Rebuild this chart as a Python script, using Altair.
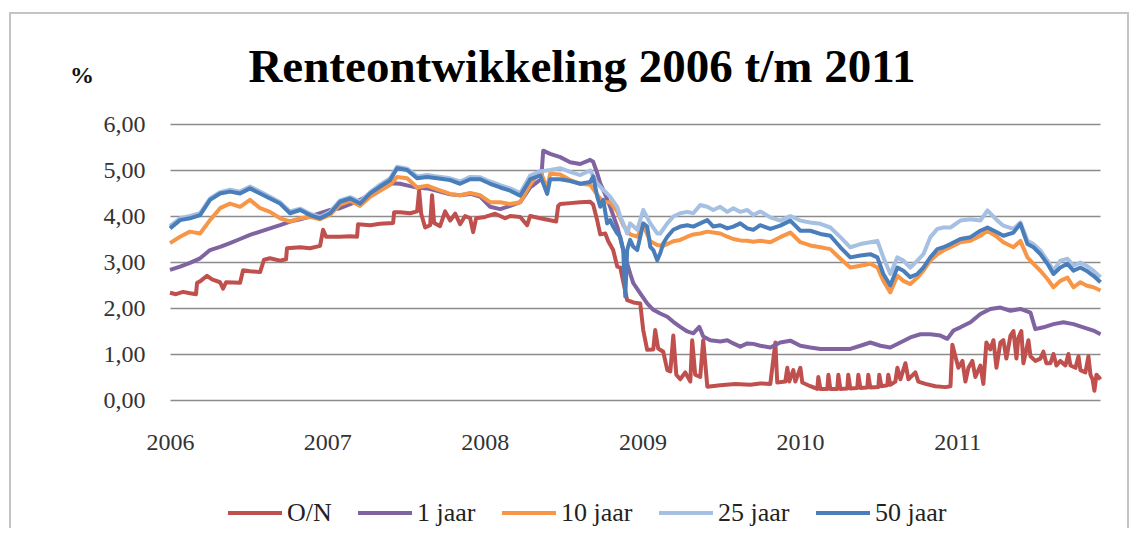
import altair as alt
import pandas as pd

TITLE = "Renteontwikkeling 2006 t/m 2011"
Y_UNIT = "%"
SERIES = ["O/N", "1 jaar", "10 jaar", "25 jaar", "50 jaar"]
COLORS = ["#C0504D", "#8064A2", "#F79646", "#A5C0E2", "#4A7EBB"]
YEARS = [2006, 2007, 2008, 2009, 2010, 2011]
Y_TICKS = [0, 1, 2, 3, 4, 5, 6]

# (decimal year, rate in %)
ON = [
    (2006.000, 2.33), (2006.038, 2.30), (2006.083, 2.35), (2006.127, 2.32), (2006.165, 2.30), (2006.172, 2.55),
    (2006.191, 2.58), (2006.235, 2.70), (2006.267, 2.62), (2006.318, 2.56), (2006.337, 2.42), (2006.356, 2.56),
    (2006.445, 2.55), (2006.464, 2.82), (2006.508, 2.80), (2006.572, 2.78), (2006.597, 3.05), (2006.635, 3.08),
    (2006.699, 3.03), (2006.737, 3.06), (2006.743, 3.30), (2006.826, 3.32), (2006.889, 3.30), (2006.953, 3.35),
    (2006.972, 3.70), (2006.991, 3.55), (2007.080, 3.55), (2007.144, 3.56), (2007.188, 3.55), (2007.194, 3.82),
    (2007.271, 3.80), (2007.334, 3.83), (2007.417, 3.85), (2007.423, 4.08), (2007.461, 4.08), (2007.525, 4.06),
    (2007.569, 4.10), (2007.582, 4.55), (2007.595, 4.05), (2007.620, 3.75), (2007.652, 3.80), (2007.664, 4.45),
    (2007.677, 3.85), (2007.715, 3.78), (2007.747, 4.10), (2007.779, 3.90), (2007.811, 4.05), (2007.842, 3.82),
    (2007.874, 4.00), (2007.906, 3.95), (2007.925, 3.65), (2007.944, 3.95), (2008.001, 3.98), (2008.065, 4.05),
    (2008.128, 3.95), (2008.160, 4.00), (2008.224, 3.98), (2008.268, 3.80), (2008.287, 4.00), (2008.351, 3.95),
    (2008.452, 3.88), (2008.465, 4.22), (2008.478, 4.26), (2008.541, 4.28), (2008.605, 4.30), (2008.668, 4.31),
    (2008.687, 4.25), (2008.713, 3.90), (2008.732, 3.60), (2008.764, 3.62), (2008.783, 3.45), (2008.814, 3.26),
    (2008.840, 2.90), (2008.859, 2.88), (2008.903, 2.17), (2008.942, 2.12), (2008.986, 2.10), (2009.005, 1.52),
    (2009.030, 1.09), (2009.069, 1.10), (2009.081, 1.52), (2009.100, 1.12), (2009.132, 1.05), (2009.158, 0.65),
    (2009.177, 0.62), (2009.196, 1.40), (2009.215, 0.55), (2009.240, 0.45), (2009.272, 0.60), (2009.304, 0.40),
    (2009.316, 1.30), (2009.335, 0.55), (2009.367, 0.50), (2009.386, 1.30), (2009.412, 0.29), (2009.494, 0.32),
    (2009.589, 0.35), (2009.685, 0.33), (2009.748, 0.36), (2009.812, 0.35), (2009.844, 1.25), (2009.856, 0.38),
    (2009.907, 0.40), (2009.920, 0.70), (2009.932, 0.40), (2009.958, 0.65), (2009.971, 0.40), (2010.003, 0.70),
    (2010.015, 0.38), (2010.066, 0.30), (2010.110, 0.24), (2010.117, 0.50), (2010.130, 0.24), (2010.174, 0.24),
    (2010.181, 0.55), (2010.193, 0.24), (2010.237, 0.24), (2010.244, 0.55), (2010.257, 0.24), (2010.301, 0.25),
    (2010.307, 0.55), (2010.320, 0.25), (2010.364, 0.26), (2010.371, 0.55), (2010.384, 0.26), (2010.428, 0.27),
    (2010.434, 0.55), (2010.447, 0.27), (2010.498, 0.28), (2010.504, 0.55), (2010.517, 0.30), (2010.555, 0.32),
    (2010.561, 0.55), (2010.574, 0.33), (2010.606, 0.40), (2010.619, 0.70), (2010.638, 0.45), (2010.670, 0.80),
    (2010.689, 0.45), (2010.733, 0.60), (2010.752, 0.40), (2010.797, 0.35), (2010.860, 0.30), (2010.924, 0.28),
    (2010.956, 0.30), (2010.968, 1.20), (2010.987, 0.95), (2011.006, 0.70), (2011.032, 0.85), (2011.051, 0.40),
    (2011.070, 0.70), (2011.095, 0.85), (2011.114, 0.50), (2011.146, 0.75), (2011.165, 0.35), (2011.184, 1.25),
    (2011.209, 1.10), (2011.229, 1.30), (2011.248, 0.70), (2011.273, 1.25), (2011.292, 1.30), (2011.311, 0.90),
    (2011.337, 1.40), (2011.356, 1.50), (2011.375, 0.90), (2011.387, 1.35), (2011.406, 1.50), (2011.419, 0.80),
    (2011.451, 1.30), (2011.464, 0.95), (2011.495, 0.85), (2011.527, 0.90), (2011.546, 1.05), (2011.565, 0.80),
    (2011.591, 0.80), (2011.610, 1.00), (2011.629, 0.75), (2011.654, 0.85), (2011.686, 0.75), (2011.705, 1.00),
    (2011.718, 0.75), (2011.750, 0.70), (2011.769, 0.95), (2011.781, 0.65), (2011.813, 0.60), (2011.832, 0.95),
    (2011.845, 0.55), (2011.858, 0.45), (2011.870, 0.20), (2011.883, 0.55), (2011.909, 0.45),
]

J1 = [
    (2006.000, 2.83), (2006.064, 2.90), (2006.127, 2.98), (2006.191, 3.08), (2006.254, 3.26), (2006.318, 3.33),
    (2006.381, 3.41), (2006.445, 3.50), (2006.508, 3.59), (2006.572, 3.66), (2006.635, 3.73), (2006.699, 3.80),
    (2006.762, 3.88), (2006.826, 3.93), (2006.889, 3.99), (2006.953, 4.06), (2007.017, 4.13), (2007.080, 4.17),
    (2007.144, 4.26), (2007.207, 4.35), (2007.271, 4.46), (2007.334, 4.60), (2007.398, 4.71), (2007.461, 4.70),
    (2007.525, 4.65), (2007.569, 4.62), (2007.633, 4.60), (2007.696, 4.55), (2007.779, 4.47), (2007.842, 4.45),
    (2007.906, 4.48), (2007.970, 4.42), (2008.033, 4.20), (2008.097, 4.15), (2008.160, 4.22), (2008.224, 4.30),
    (2008.287, 4.62), (2008.357, 4.80), (2008.370, 5.42), (2008.414, 5.35), (2008.478, 5.28), (2008.541, 5.17),
    (2008.605, 5.13), (2008.668, 5.22), (2008.687, 5.18), (2008.713, 4.93), (2008.732, 4.71), (2008.751, 4.57),
    (2008.795, 4.20), (2008.840, 3.77), (2008.878, 3.26), (2008.922, 2.75), (2008.942, 2.54), (2008.986, 2.32),
    (2009.030, 2.10), (2009.069, 1.96), (2009.113, 1.88), (2009.158, 1.81), (2009.196, 1.70), (2009.240, 1.59),
    (2009.285, 1.49), (2009.323, 1.45), (2009.361, 1.59), (2009.386, 1.38), (2009.431, 1.30), (2009.494, 1.27),
    (2009.539, 1.30), (2009.577, 1.23), (2009.621, 1.16), (2009.666, 1.23), (2009.704, 1.22), (2009.748, 1.18),
    (2009.812, 1.14), (2009.875, 1.25), (2009.939, 1.29), (2010.003, 1.18), (2010.066, 1.14), (2010.130, 1.11),
    (2010.193, 1.11), (2010.257, 1.11), (2010.320, 1.11), (2010.384, 1.18), (2010.447, 1.25), (2010.511, 1.18),
    (2010.574, 1.14), (2010.638, 1.25), (2010.701, 1.36), (2010.765, 1.43), (2010.828, 1.43), (2010.892, 1.40),
    (2010.936, 1.33), (2010.975, 1.51), (2011.019, 1.58), (2011.083, 1.69), (2011.146, 1.87), (2011.209, 1.98),
    (2011.273, 2.01), (2011.337, 1.94), (2011.400, 1.98), (2011.464, 1.90), (2011.495, 1.54), (2011.546, 1.58),
    (2011.610, 1.65), (2011.673, 1.69), (2011.737, 1.65), (2011.800, 1.58), (2011.864, 1.51), (2011.909, 1.43),
]

J10 = [
    (2006.000, 3.41), (2006.064, 3.55), (2006.127, 3.66), (2006.191, 3.62), (2006.254, 3.91), (2006.318, 4.17),
    (2006.381, 4.27), (2006.445, 4.20), (2006.508, 4.35), (2006.572, 4.17), (2006.635, 4.09), (2006.699, 3.95),
    (2006.762, 3.88), (2006.826, 3.95), (2006.889, 3.98), (2006.953, 3.93), (2007.017, 4.03), (2007.080, 4.25),
    (2007.144, 4.33), (2007.207, 4.22), (2007.271, 4.42), (2007.334, 4.55), (2007.398, 4.68), (2007.442, 4.85),
    (2007.506, 4.82), (2007.569, 4.62), (2007.633, 4.66), (2007.696, 4.58), (2007.779, 4.48), (2007.842, 4.45),
    (2007.906, 4.50), (2007.970, 4.45), (2008.033, 4.30), (2008.097, 4.30), (2008.160, 4.26), (2008.224, 4.30),
    (2008.287, 4.68), (2008.351, 4.98), (2008.395, 4.60), (2008.414, 4.92), (2008.478, 4.90), (2008.541, 4.78),
    (2008.605, 4.70), (2008.668, 4.68), (2008.713, 4.46), (2008.751, 4.30), (2008.795, 4.30), (2008.840, 4.10),
    (2008.878, 3.80), (2008.922, 3.60), (2008.967, 3.55), (2009.005, 3.80), (2009.050, 3.45), (2009.094, 3.37),
    (2009.132, 3.35), (2009.196, 3.45), (2009.240, 3.48), (2009.285, 3.55), (2009.323, 3.60), (2009.367, 3.62),
    (2009.412, 3.66), (2009.450, 3.64), (2009.494, 3.62), (2009.539, 3.55), (2009.577, 3.50), (2009.621, 3.47),
    (2009.666, 3.46), (2009.704, 3.44), (2009.748, 3.46), (2009.812, 3.43), (2009.875, 3.54), (2009.939, 3.64),
    (2010.003, 3.43), (2010.066, 3.36), (2010.130, 3.32), (2010.193, 3.28), (2010.257, 3.07), (2010.320, 2.88),
    (2010.384, 2.92), (2010.447, 2.96), (2010.492, 2.88), (2010.530, 2.59), (2010.574, 2.34), (2010.619, 2.70),
    (2010.657, 2.59), (2010.701, 2.52), (2010.746, 2.66), (2010.784, 2.81), (2010.828, 3.03), (2010.873, 3.17),
    (2010.911, 3.25), (2010.956, 3.32), (2011.019, 3.43), (2011.083, 3.46), (2011.146, 3.57), (2011.191, 3.68),
    (2011.254, 3.54), (2011.292, 3.43), (2011.356, 3.32), (2011.400, 3.46), (2011.445, 3.10), (2011.483, 2.96),
    (2011.527, 2.81), (2011.572, 2.63), (2011.610, 2.45), (2011.654, 2.59), (2011.699, 2.66), (2011.737, 2.45),
    (2011.781, 2.56), (2011.819, 2.49), (2011.864, 2.45), (2011.909, 2.38),
]

J25 = [
    (2006.000, 3.78), (2006.064, 3.95), (2006.127, 4.00), (2006.191, 4.06), (2006.254, 4.38), (2006.318, 4.52),
    (2006.381, 4.57), (2006.445, 4.53), (2006.508, 4.64), (2006.572, 4.53), (2006.635, 4.42), (2006.699, 4.30),
    (2006.762, 4.10), (2006.826, 4.16), (2006.889, 4.05), (2006.953, 3.98), (2007.017, 4.09), (2007.080, 4.34),
    (2007.144, 4.41), (2007.207, 4.31), (2007.271, 4.52), (2007.334, 4.68), (2007.398, 4.82), (2007.442, 5.07),
    (2007.506, 5.03), (2007.569, 4.86), (2007.633, 4.89), (2007.696, 4.86), (2007.779, 4.82), (2007.842, 4.75),
    (2007.906, 4.85), (2007.970, 4.84), (2008.033, 4.75), (2008.097, 4.67), (2008.160, 4.60), (2008.224, 4.50),
    (2008.287, 4.88), (2008.351, 4.97), (2008.414, 5.00), (2008.478, 5.04), (2008.541, 4.96), (2008.605, 4.89),
    (2008.668, 4.99), (2008.713, 4.71), (2008.751, 4.57), (2008.795, 4.42), (2008.840, 4.20), (2008.859, 3.99),
    (2008.878, 3.84), (2008.903, 3.62), (2008.922, 3.84), (2008.967, 3.70), (2009.005, 4.13), (2009.050, 3.84),
    (2009.094, 3.62), (2009.113, 3.62), (2009.158, 3.84), (2009.196, 3.99), (2009.240, 4.06), (2009.285, 4.09),
    (2009.323, 4.06), (2009.367, 4.24), (2009.412, 4.20), (2009.450, 4.13), (2009.494, 4.20), (2009.539, 4.09),
    (2009.577, 4.17), (2009.621, 4.09), (2009.666, 4.13), (2009.704, 4.02), (2009.748, 4.10), (2009.812, 3.97),
    (2009.875, 3.90), (2009.939, 4.00), (2010.003, 3.90), (2010.066, 3.86), (2010.130, 3.83), (2010.193, 3.75),
    (2010.257, 3.54), (2010.320, 3.32), (2010.384, 3.39), (2010.447, 3.43), (2010.492, 3.46), (2010.530, 3.10),
    (2010.574, 2.74), (2010.619, 3.10), (2010.657, 3.03), (2010.701, 2.88), (2010.746, 3.03), (2010.784, 3.17),
    (2010.828, 3.54), (2010.873, 3.72), (2010.911, 3.75), (2010.956, 3.75), (2011.019, 3.90), (2011.083, 3.93),
    (2011.146, 3.90), (2011.191, 4.12), (2011.254, 3.90), (2011.292, 3.79), (2011.356, 3.72), (2011.400, 3.86),
    (2011.445, 3.46), (2011.483, 3.39), (2011.527, 3.25), (2011.572, 3.03), (2011.610, 2.81), (2011.654, 3.03),
    (2011.699, 3.07), (2011.737, 2.92), (2011.781, 2.99), (2011.819, 2.92), (2011.864, 2.81), (2011.909, 2.67),
]

J50 = [
    (2006.000, 3.73), (2006.064, 3.91), (2006.127, 3.95), (2006.191, 4.02), (2006.254, 4.35), (2006.318, 4.49),
    (2006.381, 4.53), (2006.445, 4.49), (2006.508, 4.60), (2006.572, 4.49), (2006.635, 4.38), (2006.699, 4.27),
    (2006.762, 4.06), (2006.826, 4.13), (2006.889, 4.02), (2006.953, 3.95), (2007.017, 4.06), (2007.080, 4.31),
    (2007.144, 4.38), (2007.207, 4.27), (2007.271, 4.49), (2007.334, 4.64), (2007.398, 4.78), (2007.442, 5.04),
    (2007.506, 5.00), (2007.569, 4.82), (2007.633, 4.85), (2007.696, 4.82), (2007.779, 4.78), (2007.842, 4.70),
    (2007.906, 4.80), (2007.970, 4.80), (2008.033, 4.70), (2008.097, 4.62), (2008.160, 4.55), (2008.224, 4.44),
    (2008.287, 4.80), (2008.351, 4.88), (2008.395, 4.48), (2008.414, 4.80), (2008.478, 4.80), (2008.541, 4.76),
    (2008.605, 4.70), (2008.668, 4.74), (2008.687, 4.86), (2008.713, 4.42), (2008.732, 4.20), (2008.751, 4.35),
    (2008.776, 3.84), (2008.795, 3.91), (2008.814, 3.77), (2008.840, 3.62), (2008.859, 3.55), (2008.878, 3.26),
    (2008.891, 2.25), (2008.903, 3.26), (2008.922, 3.48), (2008.942, 3.33), (2008.967, 3.26), (2008.986, 3.55),
    (2009.005, 3.84), (2009.030, 3.77), (2009.050, 3.33), (2009.069, 3.26), (2009.094, 3.04), (2009.113, 3.19),
    (2009.132, 3.40), (2009.158, 3.55), (2009.196, 3.70), (2009.240, 3.77), (2009.285, 3.80), (2009.323, 3.77),
    (2009.367, 3.84), (2009.412, 3.91), (2009.450, 3.77), (2009.494, 3.80), (2009.539, 3.73), (2009.577, 3.77),
    (2009.621, 3.84), (2009.666, 3.73), (2009.704, 3.70), (2009.748, 3.80), (2009.812, 3.72), (2009.875, 3.79),
    (2009.939, 3.90), (2010.003, 3.68), (2010.066, 3.68), (2010.130, 3.61), (2010.193, 3.57), (2010.257, 3.32),
    (2010.320, 3.10), (2010.384, 3.14), (2010.447, 3.17), (2010.492, 3.10), (2010.530, 2.74), (2010.574, 2.49),
    (2010.619, 2.88), (2010.657, 2.81), (2010.701, 2.67), (2010.746, 2.74), (2010.784, 2.88), (2010.828, 3.10),
    (2010.873, 3.28), (2010.911, 3.32), (2010.956, 3.39), (2011.019, 3.50), (2011.083, 3.54), (2011.146, 3.68),
    (2011.191, 3.75), (2011.254, 3.64), (2011.292, 3.57), (2011.356, 3.64), (2011.400, 3.83), (2011.445, 3.39),
    (2011.483, 3.32), (2011.527, 3.17), (2011.572, 2.96), (2011.610, 2.74), (2011.654, 2.88), (2011.699, 2.96),
    (2011.737, 2.81), (2011.781, 2.88), (2011.819, 2.81), (2011.864, 2.70), (2011.909, 2.56),
]

SERIES_DATA = [ON, J1, J10, J25, J50]


def to_frame(name, pairs):
    t = pd.Series([p[0] for p in pairs], dtype=float)
    dates = pd.Timestamp("2006-01-01") + pd.to_timedelta((t - 2006.0) * 365.25, unit="D")
    return pd.DataFrame({
        "date": dates.dt.strftime("%Y-%m-%dT%H:%M:%S"),
        "rente": [p[1] for p in pairs],
        "reeks": name,
    })


FONT = "Liberation Serif"

x_enc = alt.X(
    "date:T",
    title=None,
    scale=alt.Scale(domain=[alt.DateTime(year=2006, month=1, date=1),
                            alt.DateTime(year=2011, month=11, date=28)]),
    axis=alt.Axis(values=[alt.DateTime(year=y, month=1, date=1) for y in YEARS],
                  format="%Y", grid=False, ticks=False, domain=False,
                  labelPadding=30, labelAlign="center"),
)
y_enc = alt.Y(
    "rente:Q",
    title=None,
    scale=alt.Scale(domain=[0, 6], nice=False),
    axis=alt.Axis(values=Y_TICKS, grid=True, ticks=False, domain=False,
                  labelPadding=25,
                  labelExpr="replace(format(datum.value, '.2f'), '.', ',')"),
)
color_enc = alt.Color(
    "reeks:N",
    scale=alt.Scale(domain=SERIES, range=COLORS),
    legend=alt.Legend(title=None, orient="none", direction="horizontal", columns=5,
                      legendX=56, legendY=360, padding=0,
                      symbolType="stroke", symbolSize=2916, symbolStrokeWidth=4,
                      labelFont=FONT, labelFontSize=26, labelColor="#222222",
                      labelOffset=3, columnPadding=18),
)

border = alt.Chart(pd.DataFrame({"k": [0]})).mark_rect(
    fillOpacity=0, stroke="#C4C4C4", strokeWidth=2
).encode(x=alt.value(-160), x2=alt.value(958), y=alt.value(-111), y2=alt.value(440))

lines = [
    alt.Chart(to_frame(name, pairs)).mark_line(strokeWidth=4, strokeJoin="round").encode(
        x=x_enc, y=y_enc, color=color_enc
    )
    for name, pairs in zip(SERIES, SERIES_DATA)
]

title_mark = alt.Chart(pd.DataFrame({"t": [TITLE]})).mark_text(
    font=FONT, fontSize=47, fontWeight="bold", align="center", baseline="alphabetic", color="#000000"
).encode(text="t:N", x=alt.value(412), y=alt.value(-42))

unit_mark = alt.Chart(pd.DataFrame({"t": [Y_UNIT]})).mark_text(
    font=FONT, fontSize=24, fontWeight="bold", align="center", baseline="alphabetic", color="#111111"
).encode(text="t:N", x=alt.value(-88), y=alt.value(-41))

chart = alt.layer(border, *lines, title_mark, unit_mark).properties(
    width=930,
    height=276,
    autosize=alt.AutoSizeParams(type="none"),
    padding={"left": 162, "top": 116, "right": 31, "bottom": 128},
).configure_view(
    stroke="transparent"
).configure_axis(
    labelFont=FONT, labelFontSize=24, labelColor="#333333",
    gridColor="#8C8C8C", gridWidth=1.5,
)

chart.save("out.html", embed_options={"renderer": "svg", "actions": False})
